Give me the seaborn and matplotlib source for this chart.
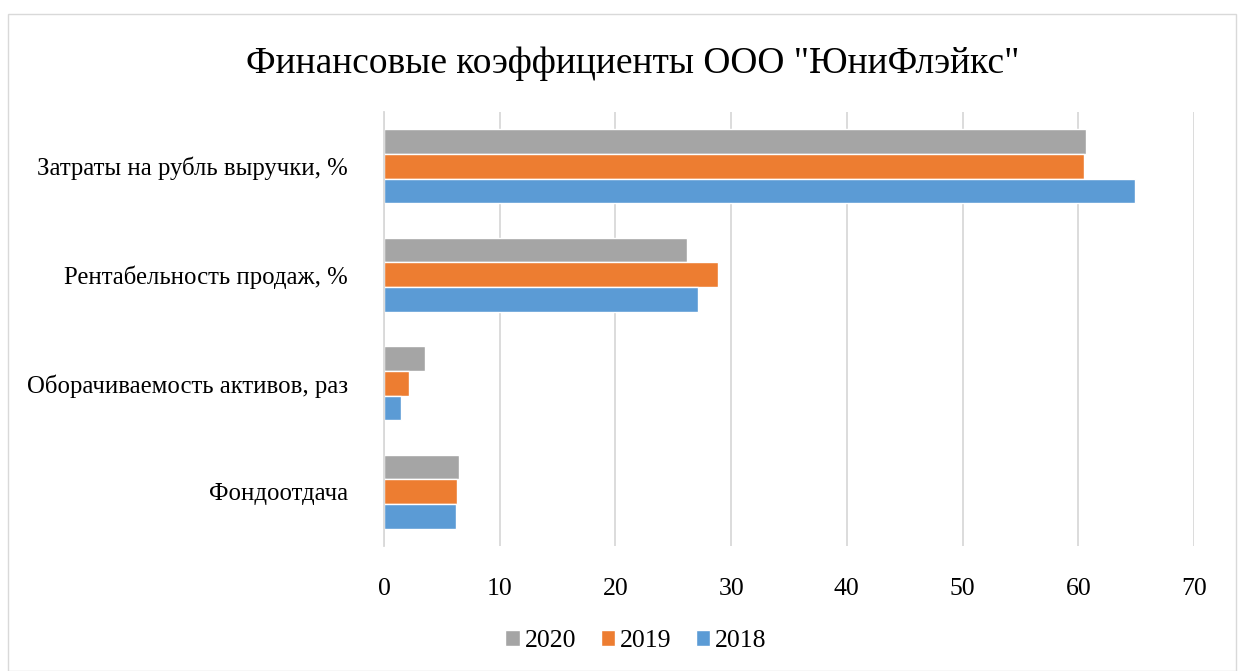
import matplotlib
matplotlib.use("Agg")
import matplotlib.pyplot as plt
import seaborn as sns
import pandas as pd
from matplotlib.patches import Rectangle

categories = ["Затраты на рубль выручки, %", "Рентабельность продаж, %",
              "Оборачиваемость активов, раз", "Фондоотдача"]
years = ["2020", "2019", "2018"]
values_2020 = [60.7, 26.2, 3.5, 6.5]
values_2019 = [60.5, 28.9, 2.2, 6.3]
values_2018 = [64.9, 27.1, 1.5, 6.2]
xticks = [0, 10, 20, 30, 40, 50, 60, 70]
title = 'Финансовые коэффициенты ООО "ЮниФлэйкс"'

rows = []
for y, vals in zip(years, [values_2020, values_2019, values_2018]):
    for c, v in zip(categories, vals):
        rows.append({"cat": c, "year": y, "val": v})
df = pd.DataFrame(rows)

sns.set_theme(style="white")
plt.rcParams["font.family"] = ["Liberation Serif", "DejaVu Serif"]
plt.rcParams["text.color"] = "#000000"
plt.rcParams["xtick.color"] = "#000000"
plt.rcParams["ytick.color"] = "#000000"

fig = plt.figure(figsize=(12.43, 6.71), dpi=100)
ax = fig.add_axes([384/1243, 1-546/671, (1194-384)/1243, (546-112)/671])

palette = {"2020": "#A5A5A5", "2019": "#ED7D31", "2018": "#5B9BD5"}
sns.barplot(data=df, y="cat", x="val", hue="year", order=categories,
            hue_order=years, palette=palette, orient="h", width=0.68,
            gap=0, saturation=1, ax=ax, legend=True)

ax.set_xlim(0, 70)
ax.set_xticks(xticks)
ax.set_xticklabels([str(t) for t in xticks], fontsize=18.5)
ax.tick_params(axis="x", length=0, pad=23, labelcolor="#000000")
ax.tick_params(axis="y", length=0, pad=26, labelsize=17.8, labelcolor="#000000")
ax.set_xlabel("")
ax.set_ylabel("")
ax.xaxis.grid(True, color="#D9D9D9", linewidth=1.3)
ax.set_axisbelow(True)
for s in ["top", "right", "bottom"]:
    ax.spines[s].set_visible(False)
ax.spines["left"].set_color("#D9D9D9")
ax.spines["left"].set_linewidth(1.3)

leg = ax.legend(loc="center", ncol=3, frameon=False, fontsize=18.5,
                handlelength=0.55, handleheight=0.55,
                handletextpad=0.2, columnspacing=0.95)
leg.set_bbox_to_anchor((636/1243, 1-641/671), transform=fig.transFigure)

fig.text(633/1243, 1-64/671, title, ha="center", va="center", fontsize=27)

fig.patches.append(Rectangle((8/1243, 0), (1236-8)/1243, 1-14/671,
                             transform=fig.transFigure, fill=False,
                             edgecolor="#D9D9D9", linewidth=1))

fig.savefig("out.png", dpi=100)
